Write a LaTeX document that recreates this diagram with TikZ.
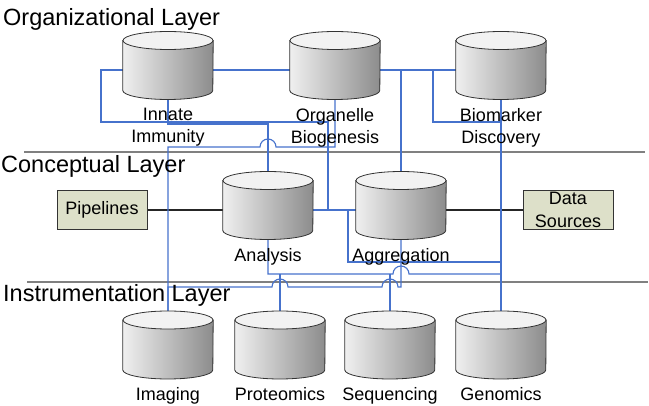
\documentclass[tikz,border=0pt]{standalone}
\usepackage{fontspec}
\setmainfont{Liberation Sans}
\usetikzlibrary{backgrounds}
\definecolor{wireblue}{RGB}{70,114,204}
\definecolor{boxfill}{RGB}{221,224,201}
\definecolor{rulegray}{RGB}{128,128,128}
\tikzset{
  drum/.style={minimum width=90pt, minimum height=58pt, inner sep=0pt},
  drumtext/.style={align=center, anchor=north, inner sep=0pt, font=\fontsize{18}{22}\selectfont},
  source/.style={draw=black!80, fill=boxfill, minimum width=90pt, minimum height=39pt, inner sep=0pt, align=center, font=\fontsize{18}{23}\selectfont},
  layer/.style={anchor=base west, inner sep=0pt, font=\fontsize{23.5}{28}\selectfont},
  wire/.style={draw=wireblue, line width=1.1pt},
  feed/.style={draw=black!85, line width=1.1pt},
  divider/.style={draw=rulegray, line width=1.5pt},
}
\newcommand\drum[4]{%
  \node[drum] (#1) at (#2,#3) {};
  \shadedraw[left color=black!6, right color=black!45, draw=black!80, line width=0.8pt]
    ([yshift=29.5pt]#1.west) -- ([yshift=-20.5pt]#1.west)
    arc[start angle=180, end angle=360, x radius=45pt, y radius=9pt]
    -- ([yshift=29.5pt]#1.east) -- cycle;
  \filldraw[fill=black!5, draw=black!80, line width=0.8pt]
    ([yshift=29.5pt]#1.center) ellipse[x radius=45pt, y radius=9pt];
  \node[drumtext] at ([yshift=-38pt]#1.center) {#4};
}
\begin{document}
\begin{tikzpicture}[x=1pt,y=1pt]
\useasboundingbox (0,0) rectangle (649,-406);
\node[layer] (orgl) at (3,-26) {Organizational Layer};
\node[layer] (conl) at (1,-173) {Conceptual Layer};
\node[layer] (insl) at (3,-302) {Instrumentation Layer};
\drum{inn}{168}{-70}{Innate\\Immunity}
\drum{org}{335}{-70}{Organelle\\Biogenesis}
\drum{bio}{501}{-70}{Biomarker\\Discovery}
\drum{ana}{268}{-210}{Analysis}
\drum{agg}{401}{-210}{Aggregation}
\drum{img}{168}{-349.5}{Imaging}
\drum{pro}{280}{-349.5}{Proteomics}
\drum{seq}{390}{-349.5}{Sequencing}
\drum{gen}{501}{-349.5}{Genomics}
\node[source] (pip) at (102,-210) {Pipelines};
\node[source] (dat) at (568,-210) {Data\\Sources};
\coordinate (split) at (348,-210);
\coordinate (bus) at (0,-274);
\begin{scope}[on background layer]
\draw[divider] (24,-152) -- (645,-152);
\draw[divider] (27,-282) -- (648,-282);
\draw[feed] (pip) -- (ana);
\draw[feed] (agg) -- (dat);
\draw[wire] (inn) -- (org);
\draw[wire] (org) -- (bio);
\draw[wire] (org) -| (agg);
\draw[wire] (bio) -| (433,-122) -- (501,-122);
\draw[wire] (bio) -- (gen);
\draw[wire] (inn) -| (101,-122) -| (328,-210) -- (agg);
\draw[wire] (inn) |- (268,-124) -- (ana);
\draw[wire] (org) |- (276,-147) arc[start angle=0, end angle=180, radius=8] -| (img);
\draw[wire] (ana) -- (agg);
\draw[wire] (split) |- (501,-262);
\draw[wire] (ana) |- (393,-274) arc[start angle=180, end angle=0, radius=8] -| (gen);
\draw[wire] (pro |- bus) -- (pro);
\draw[wire] (seq |- bus) -- (seq);
\draw[wire] (agg) |- (398,-287) arc[start angle=0, end angle=180, radius=8] -- (288,-287) arc[start angle=0, end angle=180, radius=8] -| (img);
\end{scope}
\end{tikzpicture}
\end{document}
